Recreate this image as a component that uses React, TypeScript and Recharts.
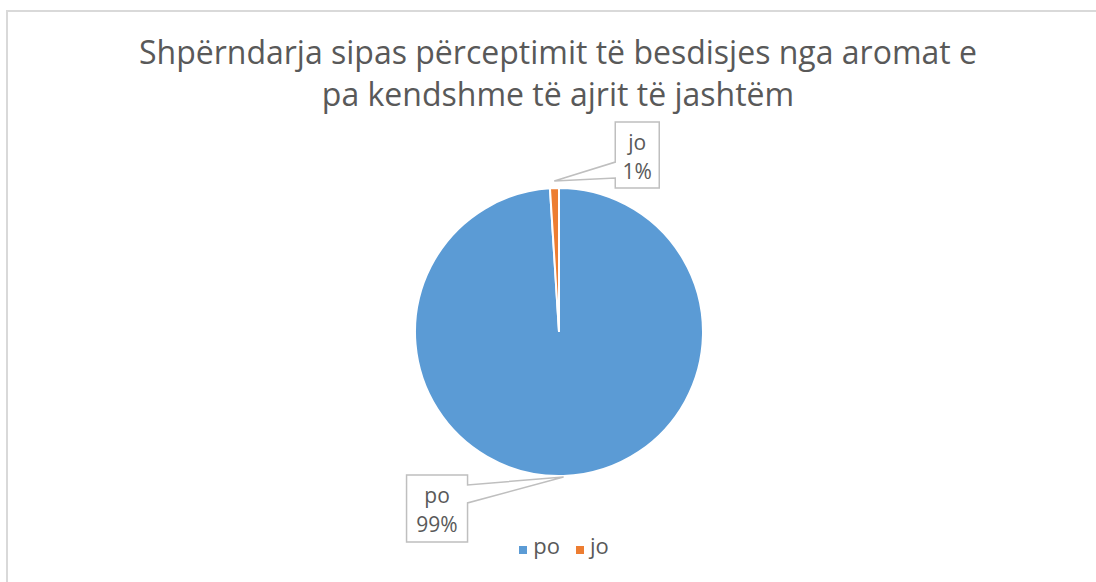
import React from 'react';
import { PieChart, Pie, Cell, Legend } from 'recharts';

// slice data
const categories = ['po', 'jo'];
const shares = [99, 1];
const colors = ['#5B9BD5', '#ED7D31'];
const titleLines = [
  'Shpërndarja sipas përceptimit të besdisjes nga aromat e',
  'pa kendshme të ajrit të jashtëm',
];

const data = categories.map((name, i) => ({ name, value: shares[i] }));

const FONT = '"Open Sans", "Liberation Sans", sans-serif';
const GRAY = '#595959';
const RAD = Math.PI / 180;

// callout box placement relative to the tip point on the slice edge
const callouts: Record<string, any> = {
  jo: { out: 7, dx: 61, dy: -59, w: 44, h: 66, side: 'left', b1: -19, b2: -3 },
  po: { out: 1, dx: -157, dy: -2, w: 61, h: 67, side: 'right', b1: 8, b2: 26 },
};

const renderCallout = (props: any) => {
  const { cx, cy, midAngle, outerRadius, name, percent } = props;
  const c = callouts[name];
  if (!c) return null;
  const r = outerRadius + c.out;
  const tx = cx + r * Math.cos(-midAngle * RAD);
  const ty = cy + r * Math.sin(-midAngle * RAD);
  const left = tx + c.dx;
  const top = ty + c.dy;
  const right = left + c.w;
  const bottom = top + c.h;
  let d = '';
  if (c.side === 'left') {
    d = `M${left},${top} L${right},${top} L${right},${bottom} L${left},${bottom} L${left},${ty + c.b2} L${tx},${ty} L${left},${ty + c.b1} Z`;
  } else {
    d = `M${left},${top} L${right},${top} L${right},${ty + c.b1} L${tx},${ty} L${right},${ty + c.b2} L${right},${bottom} L${left},${bottom} Z`;
  }
  const mx = left + c.w / 2;
  return (
    <g>
      <path d={d} fill="#fff" stroke="#bfbfbf" strokeWidth={1.5} />
      <text x={mx} y={top + 28} textAnchor="middle" fill={GRAY} fontSize={21} fontFamily={FONT}>
        {name}
      </text>
      <text x={mx} y={top + 57} textAnchor="middle" fill={GRAY} fontSize={21} fontFamily={FONT}>
        {`${Math.round(percent * 100)}%`}
      </text>
    </g>
  );
};

export default function App() {
  return (
    <div style={{ position: 'absolute', left: 0, top: 0, width: 1096, height: 582, background: '#fff', overflow: 'hidden' }}>
      <div style={{ position: 'absolute', left: 6, top: 10, width: 1200, height: 700, borderLeft: '2px solid #d9d9d9', borderTop: '2px solid #d9d9d9' }} />
      <div style={{ position: 'absolute', left: 0, top: 0 }}>
        <PieChart width={1096} height={582} margin={{ top: 0, right: 0, bottom: 0, left: 0 }}>
          <text x={558} y={64} textAnchor="middle" fill={GRAY} fontSize={32} fontFamily={FONT}>
            {titleLines[0]}
          </text>
          <text x={558} y={106} textAnchor="middle" fill={GRAY} fontSize={32} fontFamily={FONT}>
            {titleLines[1]}
          </text>
          <Pie
            data={data}
            dataKey="value"
            nameKey="name"
            cx={559}
            cy={332}
            outerRadius={144}
            startAngle={90}
            endAngle={-270}
            stroke="#fff"
            strokeWidth={2}
            label={renderCallout}
            labelLine={false}
            isAnimationActive={false}
          >
            {data.map((entry, i) => (
              <Cell key={entry.name} fill={colors[i]} />
            ))}
          </Pie>
          <Legend
            iconType="square"
            iconSize={8}
            itemSorter={(item: any) => categories.indexOf(item.value)}
            formatter={(value) => <span style={{ color: GRAY, fontFamily: FONT, fontSize: 22, marginLeft: 2, marginRight: 6 }}>{value}</span>}
            wrapperStyle={{ top: 530, left: 24, width: 1096, textAlign: 'center' }}
          />
        </PieChart>
      </div>
    </div>
  );
}
